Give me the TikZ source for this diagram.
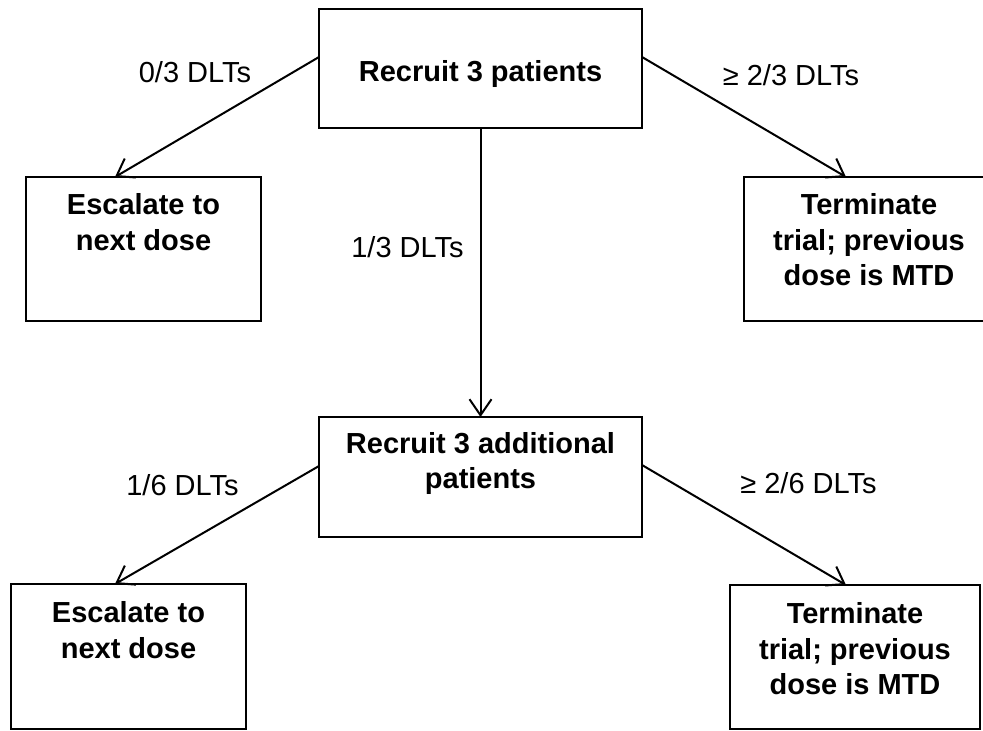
\documentclass[tikz,border=0pt]{standalone}
\usepackage{fontspec}
\setmainfont{Liberation Sans}
\usetikzlibrary{arrows.meta}
\begin{document}
\begin{tikzpicture}[x=1pt,y=-1pt,
  box/.style={draw, line width=2pt, inner sep=0pt, outer sep=0pt, font=\bfseries\fontsize{29}{35.5}\selectfont},
  conn/.style={line width=2pt, -{Straight Barb[length=16pt,width=22pt]}},
  lbl/.style={anchor=base, inner sep=0pt, font=\fontsize{29}{35.5}\selectfont}]
\useasboundingbox (0,0) rectangle (983,731);
\fill[white] (0,0) rectangle (983,731);
% boxes
\node[box] (top) at (480.5,68.5) {\parbox[c][119pt][t]{323pt}{\centering\vspace*{51pt}Recruit 3 patients}};
\node[box] (esc1) at (143.5,249) {\parbox[c][144pt][t]{235pt}{\centering\vspace*{16.5pt}Escalate to\\next dose}};
\node[box] (term1) at (869,249) {\parbox[c][144pt][t]{250pt}{\centering\vspace*{16.5pt}Terminate\\trial; previous\\dose is MTD}};
\node[box] (mid) at (480.5,477) {\parbox[c][120pt][t]{323pt}{\centering\vspace*{15pt}Recruit 3 additional\\patients}};
\node[box] (esc2) at (128.5,656.5) {\parbox[c][145pt][t]{235pt}{\centering\vspace*{17.5pt}Escalate to\\next dose}};
\node[box] (term2) at (855,657) {\parbox[c][144pt][t]{250pt}{\centering\vspace*{17.5pt}Terminate\\trial; previous\\dose is MTD}};
% connectors
\draw[conn] ([yshift=11.5pt]top.west) -- ([xshift=-28.5pt]esc1.north);
\draw[conn] ([yshift=11.5pt]top.east) -- ([xshift=-23pt]term1.north);
\draw[conn] (top.south) -- (mid.north);
\draw[conn] ([yshift=11pt]mid.west) -- ([xshift=-13.5pt]esc2.north);
\draw[conn] ([yshift=12pt]mid.east) -- ([xshift=-9pt]term2.north);
% labels
\node[lbl] (l1) at (195,82) {0/3 DLTs};
\node[lbl] (l2) at (791,85) {≥ 2/3 DLTs};
\node[lbl] (l3) at (407.5,257) {1/3 DLTs};
\node[lbl] (l4) at (182.5,495) {1/6 DLTs};
\node[lbl] (l5) at (808.5,493) {≥ 2/6 DLTs};
\end{tikzpicture}
\end{document}
